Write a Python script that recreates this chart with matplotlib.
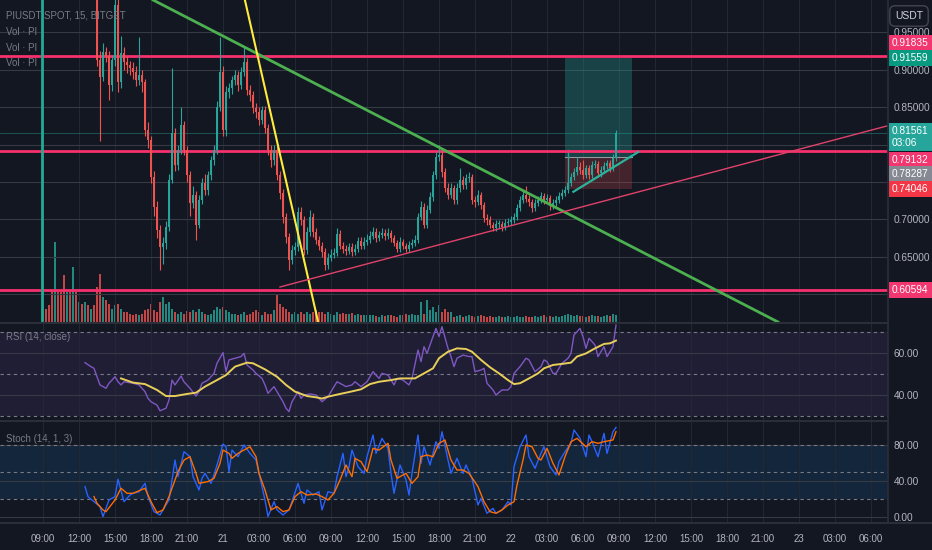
import matplotlib
matplotlib.use("Agg")
import matplotlib.pyplot as plt
import numpy as np
from matplotlib.lines import Line2D

# PIUSDT SPOT 15m, BITGET - candles from 20th 09:00 to 22nd 09:00
closes = [1.30, 1.25, 1.20, 1.15, 1.18, 1.12, 1.10, 1.08, 1.12, 1.06, 1.10, 1.04, 1.07, 1.02, 1.05, 1.01, 1.04, 1.03,
          0.913, 0.890, 0.923, 0.918, 0.879, 0.913, 0.986, 0.883, 0.922, 0.910, 0.906, 0.902,
          0.897, 0.886, 0.893, 0.883, 0.819, 0.806, 0.757, 0.717, 0.686, 0.663, 0.669, 0.690,
          0.753, 0.815, 0.773, 0.793, 0.826, 0.793, 0.759, 0.722, 0.733, 0.693, 0.726, 0.749,
          0.739, 0.759, 0.779, 0.793, 0.850, 0.897, 0.819, 0.870, 0.875, 0.886, 0.893, 0.879,
          0.897, 0.910, 0.873, 0.866, 0.849, 0.843, 0.833, 0.846, 0.822, 0.793, 0.779, 0.793,
          0.759, 0.735, 0.703, 0.677, 0.646, 0.659, 0.663, 0.710, 0.699, 0.659, 0.683, 0.703,
          0.683, 0.673, 0.665, 0.657, 0.639, 0.649, 0.653, 0.655, 0.681, 0.665, 0.661, 0.658,
          0.663, 0.657, 0.661, 0.671, 0.665, 0.670, 0.673, 0.678, 0.683, 0.675, 0.679, 0.682,
          0.678, 0.682, 0.675, 0.669, 0.661, 0.670, 0.665, 0.661, 0.666, 0.669, 0.673, 0.703,
          0.717, 0.693, 0.713, 0.730, 0.759, 0.783, 0.786, 0.763, 0.742, 0.733, 0.742, 0.726,
          0.742, 0.753, 0.746, 0.755, 0.757, 0.726, 0.723, 0.733, 0.719, 0.702, 0.699, 0.693,
          0.689, 0.694, 0.694, 0.690, 0.695, 0.697, 0.699, 0.703, 0.715, 0.726, 0.733, 0.727,
          0.723, 0.715, 0.722, 0.726, 0.731, 0.726, 0.729, 0.718, 0.722, 0.726, 0.731, 0.735,
          0.739, 0.749, 0.757, 0.763, 0.770, 0.766, 0.759, 0.768, 0.759, 0.773, 0.774, 0.762,
          0.766, 0.771, 0.775, 0.768, 0.782, 0.81561]
first_open = 1.32
highs = [1.36, 1.32, 1.27, 1.22, 1.22, 1.19, 1.15, 1.13, 1.15, 1.13, 1.13, 1.11, 1.09, 1.08, 1.07, 1.06, 1.06, 1.06,
         1.05, 0.925, 0.935, 0.930, 0.925, 0.920, 1.05, 1.00, 0.945, 0.930, 0.918, 0.912,
         0.910, 0.905, 0.943, 0.900, 0.888, 0.830, 0.812, 0.765, 0.725, 0.692, 0.676, 0.698,
         0.760, 0.902, 0.822, 0.800, 0.850, 0.832, 0.798, 0.765, 0.745, 0.738, 0.732, 0.755,
         0.760, 0.765, 0.785, 0.800, 0.858, 0.943, 0.905, 0.878, 0.882, 0.892, 0.900, 0.898,
         0.903, 0.930, 0.915, 0.880, 0.872, 0.856, 0.850, 0.852, 0.851, 0.828, 0.800, 0.800,
         0.798, 0.764, 0.740, 0.708, 0.682, 0.666, 0.670, 0.716, 0.716, 0.704, 0.690, 0.712,
         0.708, 0.688, 0.678, 0.670, 0.662, 0.655, 0.660, 0.662, 0.688, 0.686, 0.670, 0.666,
         0.669, 0.668, 0.667, 0.677, 0.676, 0.676, 0.680, 0.684, 0.690, 0.688, 0.685, 0.688,
         0.687, 0.688, 0.686, 0.679, 0.673, 0.676, 0.674, 0.669, 0.671, 0.674, 0.679, 0.709,
         0.724, 0.722, 0.719, 0.737, 0.765, 0.790, 0.799, 0.793, 0.768, 0.748, 0.748, 0.746,
         0.748, 0.768, 0.758, 0.760, 0.763, 0.761, 0.731, 0.739, 0.737, 0.723, 0.707, 0.704,
         0.697, 0.699, 0.699, 0.698, 0.700, 0.702, 0.704, 0.708, 0.720, 0.731, 0.738, 0.744,
         0.732, 0.727, 0.727, 0.731, 0.736, 0.735, 0.734, 0.733, 0.727, 0.731, 0.736, 0.740,
         0.744, 0.754, 0.762, 0.768, 0.784, 0.776, 0.780, 0.773, 0.772, 0.778, 0.780, 0.778,
         0.771, 0.776, 0.780, 0.779, 0.787, 0.819]
lows = [1.28, 1.23, 1.18, 1.13, 1.14, 1.10, 1.08, 1.06, 1.07, 1.04, 1.05, 1.02, 1.03, 1.00, 1.01, 1.00, 1.00, 1.01,
        0.905, 0.805, 0.885, 0.910, 0.860, 0.872, 0.905, 0.870, 0.875, 0.900, 0.895, 0.893,
        0.888, 0.878, 0.880, 0.870, 0.812, 0.795, 0.748, 0.705, 0.675, 0.633, 0.640, 0.660,
        0.685, 0.748, 0.765, 0.766, 0.788, 0.786, 0.750, 0.705, 0.715, 0.673, 0.688, 0.720,
        0.732, 0.733, 0.752, 0.772, 0.788, 0.845, 0.812, 0.812, 0.862, 0.868, 0.880, 0.872,
        0.874, 0.892, 0.866, 0.858, 0.842, 0.836, 0.826, 0.828, 0.815, 0.786, 0.770, 0.773,
        0.752, 0.727, 0.695, 0.668, 0.633, 0.640, 0.652, 0.658, 0.692, 0.652, 0.654, 0.678,
        0.677, 0.667, 0.659, 0.650, 0.632, 0.634, 0.644, 0.648, 0.651, 0.660, 0.655, 0.652,
        0.654, 0.651, 0.652, 0.657, 0.660, 0.661, 0.666, 0.669, 0.674, 0.670, 0.671, 0.675,
        0.673, 0.674, 0.670, 0.664, 0.656, 0.657, 0.660, 0.656, 0.657, 0.662, 0.665, 0.669,
        0.699, 0.688, 0.689, 0.708, 0.725, 0.754, 0.778, 0.757, 0.736, 0.727, 0.728, 0.720,
        0.721, 0.737, 0.740, 0.741, 0.750, 0.720, 0.717, 0.719, 0.714, 0.697, 0.693, 0.688,
        0.684, 0.685, 0.689, 0.685, 0.686, 0.691, 0.693, 0.695, 0.699, 0.711, 0.722, 0.723,
        0.718, 0.710, 0.711, 0.718, 0.722, 0.721, 0.722, 0.713, 0.714, 0.718, 0.722, 0.727,
        0.731, 0.735, 0.745, 0.753, 0.759, 0.761, 0.754, 0.755, 0.754, 0.755, 0.768, 0.757,
        0.757, 0.762, 0.767, 0.763, 0.765, 0.778]
volumes = [10, 13, 17, 32, 80, 30, 30, 47, 30, 30, 55, 30, 20, 18, 20, 17, 13, 17,
           35, 48, 25, 22, 18, 13, 17, 18, 13, 10, 10, 8,
           7, 8, 7, 8, 12, 13, 18, 12, 10, 20, 25, 18,
           20, 13, 10, 8, 10, 8, 11, 10, 12, 10, 13, 10,
           8, 7, 8, 12, 15, 13, 15, 12, 10, 8, 8, 7,
           8, 10, 7, 8, 10, 12, 10, 7, 10, 8, 8, 12,
           28, 18, 15, 13, 10, 8, 10, 8, 10, 8, 10, 8,
           10, 12, 10, 10, 8, 10, 8, 7, 10, 8, 9, 8,
           8, 9, 7, 8, 7, 7, 7, 7, 7, 6, 5, 7,
           6, 7, 7, 6, 5, 7, 7, 8, 7, 8, 7, 7,
           20, 8, 22, 12, 15, 10, 17, 10, 13, 10, 10, 5,
           6, 7, 5, 6, 7, 6, 5, 6, 7, 6, 5, 6,
           5, 5, 6, 5, 5, 6, 5, 5, 6, 5, 5, 6,
           5, 5, 6, 5, 6, 7, 5, 6, 5, 6, 5, 6,
           7, 8, 7, 6, 7, 6, 6, 5, 6, 7, 6, 6,
           5, 6, 7, 6, 8, 7]

# RSI(14) and its MA, read as (candle index, value)
rsi_pts = [(14, 55.4), (16, 53.5), (17, 52.7), (18, 48.7), (19, 44.8), (21, 43.2), (22, 45.6), (23, 47.1), (24, 48.7),
           (25, 46.3), (26, 44.8), (27, 46.3), (30, 45.6), (32, 44.8), (34, 41.6), (35, 38.4), (36, 36.8), (38, 35.2),
           (39, 32.5), (41, 33.7), (42, 37.6), (43, 47.1), (44, 44.8), (46, 49.0), (47, 46.3), (49, 43.2), (51, 39.5),
           (52, 41.6), (53, 45.6), (55, 47.1), (57, 50.3), (58, 55.1), (60, 60.2), (61, 51.1), (62, 56.7), (64, 57.5),
           (66, 58.3), (67, 59.8), (68, 54.3), (70, 51.9), (71, 50.3), (73, 47.9), (74, 44.8), (75, 40.8), (77, 44.0),
           (78, 41.6), (80, 36.8), (81, 33.7), (82, 32.1), (83, 36.8), (85, 41.6), (86, 38.4), (87, 40.0), (89, 40.5),
           (91, 40.0), (92, 38.4), (93, 36.8), (95, 39.2), (96, 41.6), (98, 46.3), (100, 44.8), (101, 44.0),
           (103, 44.8), (104, 46.3), (106, 44.0), (108, 46.3), (110, 51.1), (112, 47.9), (113, 50.3), (115, 49.5),
           (117, 44.8), (118, 47.9), (120, 47.1), (122, 44.8), (123, 47.9), (125, 61.4), (126, 55.9), (127, 63.0),
           (128, 59.8), (130, 67.8), (131, 71.7), (132, 67.8), (133, 72.5), (135, 62.2), (136, 58.3), (137, 53.5),
           (138, 57.5), (140, 59.0), (142, 58.3), (143, 58.3), (144, 51.1), (146, 51.9), (147, 52.7), (148, 45.6),
           (150, 42.4), (151, 40.0), (153, 42.4), (155, 42.4), (156, 44.0), (157, 50.3), (159, 53.5), (161, 57.5),
           (162, 56.7), (164, 51.1), (166, 53.5), (167, 56.7), (168, 55.9), (170, 50.3), (171, 50.3), (173, 55.1),
           (175, 57.5), (176, 59.8), (177, 68.6), (179, 71.7), (180, 67.8), (181, 62.2), (182, 67.0), (184, 63.8),
           (185, 58.3), (187, 63.0), (188, 58.3), (190, 63.0), (191, 73.3)]
rsi_ma_pts = [(26, 47.9), (30, 45.9), (34, 45.2), (38, 42.4), (41, 39.5), (44, 39.5), (48, 40.5), (51, 41.1),
              (54, 44.0), (58, 47.1), (61, 49.5), (64, 53.5), (68, 55.4), (70, 55.1), (74, 52.2), (78, 48.7),
              (81, 44.8), (84, 41.6), (88, 39.5), (91, 38.9), (93, 38.3), (95, 39.2), (99, 40.5), (102, 41.4),
              (106, 42.7), (109, 45.2), (112, 46.3), (116, 47.1), (119, 47.9), (124, 47.9), (127, 50.3), (130, 52.7),
              (132, 57.5), (135, 60.6), (138, 62.2), (141, 61.9), (143, 60.6), (146, 56.7), (149, 53.2), (152, 50.3),
              (155, 47.1), (157, 45.2), (159, 45.6), (162, 47.9), (165, 50.3), (167, 52.7), (170, 54.3), (173, 54.8),
              (176, 55.4), (178, 58.3), (181, 59.8), (184, 62.2), (187, 64.3), (189, 64.6), (191, 65.9)]

# Stoch (14, 1, 3): %K and %D
stoch_k_pts = [(14, 33.7), (15, 22.6), (17, 17.0), (19, 11.5), (20, 0.4), (22, 18.9), (24, 22.6), (25, 41.9),
               (27, 17.0), (29, 24.4), (30, 26.3), (32, 28.1), (34, 37.4), (35, 22.6), (37, 5.9), (39, 2.2), (40, 7.8),
               (42, 18.9), (44, 63.3), (45, 44.8), (47, 72.6), (49, 67.0), (50, 44.8), (52, 30.0), (53, 43.0),
               (54, 48.5), (56, 37.4), (57, 46.7), (59, 68.9), (60, 81.1), (61, 78.1), (62, 50.4), (63, 74.4),
               (65, 67.0), (67, 80.0), (69, 70.7), (71, 63.3), (72, 48.5), (74, 18.9), (75, 0.4), (77, 17.0), (78, 7.8),
               (80, 2.2), (82, 7.8), (83, 17.0), (85, 37.4), (87, 15.2), (88, 30.0), (90, 24.4), (92, 28.1), (93, 7.8),
               (95, 28.1), (97, 26.3), (98, 44.8), (100, 70.7), (101, 44.8), (102, 55.9), (103, 74.4), (105, 55.9),
               (107, 48.5), (108, 67.0), (110, 91.1), (111, 70.7), (113, 87.4), (115, 76.3), (116, 48.5), (117, 26.3),
               (119, 57.8), (121, 41.1), (122, 24.4), (123, 48.5), (125, 91.1), (126, 59.6), (127, 78.1), (129, 57.8),
               (131, 83.7), (132, 76.3), (133, 94.8), (135, 63.3), (136, 48.5), (138, 65.2), (140, 48.5), (141, 57.8),
               (143, 43.0), (145, 13.3), (146, 20.7), (148, 4.1), (150, 9.6), (151, 4.1), (153, 7.8), (155, 17.0),
               (156, 13.3), (157, 55.9), (159, 78.1), (161, 91.1), (162, 67.0), (164, 54.1), (166, 70.7), (167, 78.1),
               (169, 55.9), (171, 46.7), (172, 61.5), (174, 72.6), (176, 81.9), (177, 96.7), (179, 87.4), (181, 67.0),
               (182, 91.1), (183, 83.7), (185, 67.0), (187, 93.0), (188, 70.7), (190, 94.8), (191, 99.6)]
stoch_d_pts = [(17, 22.6), (18, 15.2), (20, 7.8), (21, 5.9), (24, 18.9), (26, 31.9), (28, 26.3), (30, 26.3),
               (34, 31.9), (36, 17.0), (38, 4.8), (40, 7.8), (42, 22.6), (45, 50.4), (47, 63.3), (49, 67.0), (51, 48.5),
               (52, 37.4), (55, 39.3), (57, 43.0), (59, 59.6), (60, 74.4), (62, 70.7), (63, 65.2), (65, 70.7),
               (67, 74.4), (69, 78.1), (71, 67.0), (72, 48.5), (74, 30.0), (76, 7.8), (78, 11.5), (80, 5.9), (82, 7.8),
               (84, 22.6), (86, 28.1), (88, 24.4), (91, 25.6), (93, 22.6), (95, 18.9), (97, 26.3), (99, 41.1),
               (101, 57.8), (103, 44.8), (104, 65.2), (106, 61.5), (108, 50.4), (110, 76.3), (112, 74.4), (115, 81.9),
               (116, 63.3), (118, 43.0), (121, 48.5), (123, 37.4), (125, 44.8), (126, 67.0), (128, 68.9), (130, 67.0),
               (132, 81.9), (134, 85.6), (136, 63.3), (138, 52.2), (140, 52.2), (142, 48.5), (145, 33.7), (147, 17.0),
               (149, 5.9), (151, 4.1), (153, 7.8), (155, 13.3), (157, 17.0), (158, 35.6), (160, 63.3), (161, 80.0),
               (163, 78.1), (165, 65.2), (166, 63.3), (168, 76.3), (170, 59.6), (172, 46.7), (174, 67.0), (176, 83.7),
               (178, 87.4), (181, 78.1), (183, 83.7), (185, 81.9), (187, 83.7), (190, 85.6), (191, 94.8)]

# time axis: one label every 12 candles (3 h)
time_labels = ["09:00", "12:00", "15:00", "18:00", "21:00", "21", "03:00", "06:00", "09:00", "12:00", "15:00",
               "18:00", "21:00", "22", "03:00", "06:00", "09:00", "12:00", "15:00", "18:00", "21:00", "23",
               "03:00", "06:00"]
price_ticks = [0.60, 0.65, 0.70, 0.75, 0.80, 0.85, 0.90, 0.95]
hidden_ticks = [0.60, 0.75, 0.80]   # covered by the price tags in the reference

# drawings on the chart: (candle index, price) anchors
green_trend = [(36.7, 0.9927), (245.0, 0.5633)]
yellow_trend = [(67.3, 0.9927), (91.7, 0.5633)]
pink_support = [(79.0, 0.610), (281.3, 0.8247)]
wedge_line = [(176.8, 0.737), (198.4, 0.790)]
levels = [0.91835, 0.79132, 0.60594]
trade_left, trade_right = 174.0, 196.3
trade_entry, trade_target, trade_stop = 0.78287, 0.91559, 0.74046

BG = "#131722"
TEAL = "#26a69a"
RED = "#ef5350"
PINK = "#f7306e"
TXT = "#b2b5be"
GRID_H = "#363a45"
GRID_V = "#232733"

plt.rcParams['font.family'] = ['Liberation Sans Narrow', 'Liberation Sans', 'DejaVu Sans']

W, H = 932, 550
fig = plt.figure(figsize=(W / 100, H / 100), dpi=100, facecolor=BG)


def px_axes(x0, y0, x1, y1, fc=BG):
    a = fig.add_axes([x0 / W, 1 - y1 / H, (x1 - x0) / W, (y1 - y0) / H], facecolor=fc)
    for s in a.spines.values():
        s.set_visible(False)
    return a


xlim = (-43 / 3, (888 - 43) / 3)
tick_i = np.arange(len(time_labels)) * 12

# ---- volume (behind the price pane)
axv = px_axes(0, 0, 888, 322)
closes_a = np.array(closes)
opens_a = np.r_[first_open, closes_a[:-1]]
idx = np.arange(len(closes_a))
up = closes_a >= opens_a
cols = np.where(up, TEAL, RED)
axv.bar(idx, volumes, width=0.72, color=cols, alpha=0.8)
axv.set_ylim(0, max(volumes) * 4.03)
axv.set_xlim(*xlim)
axv.set_xticks(tick_i)
axv.grid(axis='x', color=GRID_V, lw=0.8)
axv.tick_params(length=0, labelbottom=False, labelleft=False)
axv.set_yticks([])

# ---- price pane
ax = px_axes(0, 0, 888, 322, fc='none')
ax.set_xlim(*xlim)
ax.set_ylim(0.5633, 0.9927)
ax.set_yticks(price_ticks)
ax.set_yticklabels(["" if v in hidden_ticks else f"{v:.5f}" for v in price_ticks])
ax.yaxis.tick_right()
ax.tick_params(axis='y', length=0, pad=4, colors=TXT, labelsize=7.3)
ax.set_xticks(tick_i)
ax.tick_params(axis='x', length=0, labelbottom=False)
ax.grid(axis='y', color=GRID_H, lw=0.8)
ax.set_axisbelow(True)

# position box
ax.fill_between([trade_left, trade_right], trade_entry, trade_target, color=TEAL, alpha=0.3, lw=0, zorder=1)
ax.fill_between([trade_left, trade_right], trade_stop, trade_entry, color=RED, alpha=0.22, lw=0, zorder=1)
ax.plot([trade_left, trade_right], [trade_entry, trade_entry], color="#9598a1", lw=0.8, zorder=1.5)
ax.plot([trade_left + 1, trade_left + 1], [trade_stop, trade_entry + 0.01], color=TEAL, lw=1, zorder=1.5)

for lv in levels:
    ax.axhline(lv, color=PINK, lw=2, zorder=2)
ax.axhline(closes[-1], color=TEAL, lw=0.6, alpha=0.5, zorder=1.5)
ax.axvline(-0.2, color="#22ab94", lw=2, zorder=2)

ax.vlines(idx, lows, highs, colors=cols, lw=0.8, zorder=3)
ax.bar(idx, np.maximum(np.abs(closes_a - opens_a), 0.0012), bottom=np.minimum(opens_a, closes_a),
       width=0.72, color=cols, zorder=3)

ax.plot(*zip(*green_trend), color="#4caf50", lw=2, zorder=4)
ax.plot(*zip(*yellow_trend), color="#ffeb3b", lw=1.5, zorder=4)
ax.plot(*zip(*pink_support), color="#e0426a", lw=1, zorder=4)
ax.plot(*zip(*wedge_line), color="#2bb39b", lw=1.6, zorder=4)

# right-axis price tags: value, colour, shift (px) to avoid overlap
price_tags = [(0.91835, "#f23670", 13), (0.91559, "#089981", 0), (0.79132, "#f23670", -9),
              (0.78287, "#868993", -17), (0.74046, "#f23645", 0), (0.60594, "#f23670", 0)]
for v, c, sh in price_tags:
    ax.annotate(f"{v:.5f}", xy=(1, v), xycoords=('axes fraction', 'data'), xytext=(4, sh),
                textcoords='offset pixels', ha='left', va='center', color='white', fontsize=7.3,
                bbox=dict(boxstyle='square,pad=0.3', fc=c, ec='none'), annotation_clip=False, zorder=10)
ax.annotate(f"{closes[-1]:.5f}\n03:06", xy=(1, closes[-1]), xycoords=('axes fraction', 'data'), xytext=(4, -4),
            textcoords='offset pixels', ha='left', va='center', color='white', fontsize=7.3, linespacing=1.25,
            bbox=dict(boxstyle='square,pad=0.3', fc=TEAL, ec='none'), annotation_clip=False, zorder=10)

# ---- RSI pane
ax_r = px_axes(0, 324, 888, 420)
ax_r.set_xlim(*xlim)
ax_r.set_ylim(28.1, 73.8)
ax_r.axhspan(30, 70, color="#7e57c2", alpha=0.12, lw=0)
for lv in (70, 50, 30):
    ax_r.axhline(lv, color="#787b86", lw=0.8, ls=(0, (3, 3)))
ax_r.set_yticks([40, 60])
ax_r.set_yticklabels(["40.00", "60.00"])
ax_r.yaxis.tick_right()
ax_r.tick_params(axis='y', length=0, pad=4, colors=TXT, labelsize=7.3)
ax_r.set_xticks(tick_i)
ax_r.tick_params(axis='x', length=0, labelbottom=False)
ax_r.grid(axis='y', color=GRID_H, lw=0.8)
ax_r.grid(axis='x', color=GRID_V, lw=0.8)
ax_r.plot(*zip(*rsi_pts), color="#7e57c2", lw=1)
ax_r.plot(*zip(*rsi_ma_pts), color="#e8cf5a", lw=1.4)

# ---- Stoch pane
ax_s = px_axes(0, 422, 888, 522)
ax_s.set_xlim(*xlim)
ax_s.set_ylim(-5.6, 105.6)
ax_s.axhspan(20, 80, color="#2196f3", alpha=0.12, lw=0)
for lv in (80, 50, 20):
    ax_s.axhline(lv, color="#787b86", lw=0.8, ls=(0, (3, 3)))
ax_s.set_yticks([0, 40, 80])
ax_s.set_yticklabels(["0.00", "40.00", "80.00"])
ax_s.yaxis.tick_right()
ax_s.tick_params(axis='y', length=0, pad=4, colors=TXT, labelsize=7.3)
ax_s.set_xticks(tick_i)
ax_s.set_xticklabels(time_labels)
ax_s.tick_params(axis='x', length=0, pad=9, colors=TXT, labelsize=7)
ax_s.grid(axis='y', color=GRID_H, lw=0.8)
ax_s.grid(axis='x', color=GRID_V, lw=0.8)
ax_s.plot(*zip(*stoch_k_pts), color="#2962ff", lw=1)
ax_s.plot(*zip(*stoch_d_pts), color="#ff6d00", lw=1)

# separators
for y in (323, 421, 523):
    fig.add_artist(Line2D([0, 888 / W if y != 523 else 1], [1 - y / H] * 2, color="#2a2e39", lw=1.5))
fig.add_artist(Line2D([888 / W] * 2, [1 - 523 / H, 1], color="#2a2e39", lw=1.2))

# legends / labels
lab = dict(color="#787b86", fontsize=7, ha='left', va='center')
fig.text(6 / W, 1 - 16 / H, "PIUSDT SPOT, 15, BITGET", **lab)
for y in (32, 48, 63):
    fig.text(6 / W, 1 - y / H, "Vol · PI", **lab)
fig.text(6 / W, 1 - 337 / H, "RSI (14, close)", **lab)
fig.text(6 / W, 1 - 439 / H, "Stoch (14, 1, 3)", **lab)
fig.text(909 / W, 1 - 16 / H, "USDT", ha='center', va='center', color="#d1d4dc", fontsize=7.5,
         bbox=dict(boxstyle='round,pad=0.5', fc=BG, ec="#434651"))

fig.savefig("out.png", dpi=100, facecolor=BG)
